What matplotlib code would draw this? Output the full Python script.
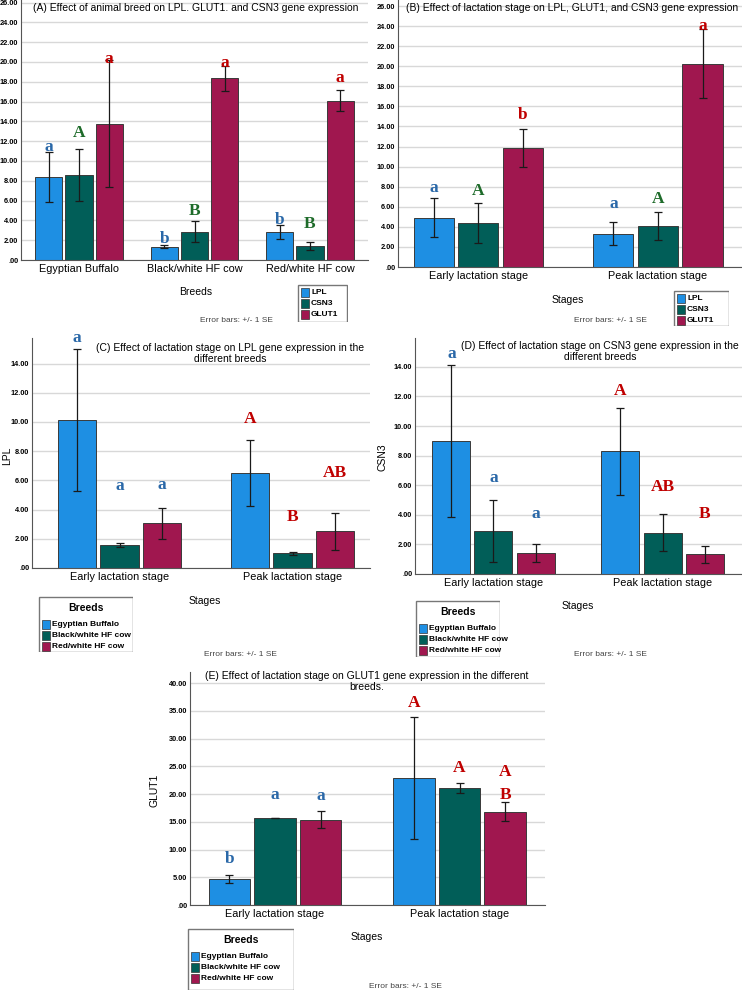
import matplotlib
matplotlib.use("Agg")
import matplotlib.pyplot as plt
import matplotlib.patches as mpatches
import numpy as np

# ---------------- data ----------------
breeds = ["Egyptian Buffalo", "Black/white HF cow", "Red/white HF cow"]
stages = ["Early lactation stage", "Peak lactation stage"]
genes = ["LPL", "CSN3", "GLUT1"]

# Panel A: genes by breed
a_lpl = [8.35, 1.35, 2.85]
a_lpl_se = [2.53, 0.15, 0.72]
a_csn3 = [8.60, 2.85, 1.38]
a_csn3_se = [2.63, 1.05, 0.40]
a_glut1 = [13.75, 18.35, 16.10]
a_glut1_se = [6.40, 1.25, 1.08]
a_letters = [["a", "A", "a"], ["b", "B", "a"], ["b", "B", "a"]]
a_letter_y = [[11.45, 12.8, 20.3], [2.1, 4.9, 19.9], [4.0, 3.6, 18.4]]

# Panel B: genes by stage
b_lpl = [4.92, 3.32]
b_lpl_se = [1.97, 1.13]
b_csn3 = [4.39, 4.12]
b_csn3_se = [1.99, 1.40]
b_glut1 = [11.87, 20.27]
b_glut1_se = [1.92, 3.40]
b_letters = [["a", "A", "b"], ["a", "A", "a"]]
b_letter_y = [[7.88, 7.58, 15.1], [6.25, 6.8, 24.0]]

# Panel C: LPL by stage and breed
c_egypt = [10.16, 6.51]
c_egypt_se = [4.86, 2.27]
c_bw = [1.60, 1.00]
c_bw_se = [0.13, 0.10]
c_rw = [3.06, 2.53]
c_rw_se = [1.05, 1.27]
c_letters = [["a", "a", "a"], ["A", "B", "AB"]]
c_letter_y = [[15.75, 5.6, 5.7], [10.2, 3.5, 6.5]]

# Panel D: CSN3 by stage and breed
d_egypt = [9.00, 8.28]
d_egypt_se = [5.15, 2.92]
d_bw = [2.90, 2.80]
d_bw_se = [2.09, 1.26]
d_rw = [1.40, 1.33]
d_rw_se = [0.62, 0.57]
d_letters = [["a", "a", "a"], ["A", "AB", "B"]]
d_letter_y = [[14.9, 6.5, 4.05], [12.4, 5.9, 4.05]]

# Panel E: GLUT1 by stage and breed
e_egypt = [4.69, 22.90]
e_egypt_se = [0.78, 11.06]
e_bw = [15.69, 21.05]
e_bw_se = [0.06, 0.87]
e_rw = [15.33, 16.84]
e_rw_se = [1.53, 1.68]
e_letters = [["b", "a", "a"], ["A", "A", "A"]]
e_letter_y = [[8.3, 19.8, 19.7], [36.4, 24.65, 23.9]]
e_extra_letter = ("B", 1, 2, 19.8)  # (letter, group, series, y)

# ---------------- style ----------------
W, H = 742, 991
C_BLUE = "#1E8FE3"
C_TEAL = "#015E58"
C_MAROON = "#A0174F"
bar_colors = [C_BLUE, C_TEAL, C_MAROON]
L_BLUE = "#2A68A8"
L_GREEN = "#1E6B2A"
L_RED = "#C00000"
SANS = ["Liberation Sans", "DejaVu Sans"]
SERIF = ["Liberation Serif", "DejaVu Serif"]

fig = plt.figure(figsize=(W / 100, H / 100), dpi=100)
fig.patch.set_facecolor("white")


def px_axes(left, top, right, bottom):
    return fig.add_axes([left / W, 1 - bottom / H, (right - left) / W, (bottom - top) / H])


def ftext(x, y, s, size=7.5, **kw):
    kw.setdefault("ha", "center")
    kw.setdefault("va", "center")
    kw.setdefault("family", SANS)
    fig.text(x / W, 1 - y / H, s, fontsize=size, **kw)


def fmt(v):
    return ".00" if v == 0 else "%.2f" % v


def style_axes(ax, ymax, ystep, ylim_top, xlim, cats):
    ax.set_ylim(0, ylim_top)
    ax.set_xlim(*xlim)
    ticks = np.arange(0, ymax + 0.001, ystep)
    ax.set_yticks(ticks)
    ax.set_yticklabels([fmt(t) for t in ticks], fontsize=5.3, fontweight="bold", family=SANS)
    ax.set_xticks(range(len(cats)))
    ax.set_xticklabels(cats, fontsize=7.8, family=SANS)
    ax.tick_params(axis="both", length=0, pad=2)
    ax.tick_params(axis="x", pad=3)
    for s in ["top", "right"]:
        ax.spines[s].set_visible(False)
    for s in ["left", "bottom"]:
        ax.spines[s].set_color("#555555")
        ax.spines[s].set_linewidth(0.8)
    ax.yaxis.grid(True, color="#D8D8D8", linewidth=1.0)
    ax.set_axisbelow(True)


def draw_bars(ax, series, ses, width, offset):
    n = len(series)
    for i, (vals, se) in enumerate(zip(series, ses)):
        x = np.arange(len(vals)) + (i - (n - 1) / 2) * offset
        ax.bar(x, vals, width, color=bar_colors[i], edgecolor="#3A3A3A", linewidth=0.7, zorder=2)
        ax.errorbar(x, vals, yerr=se, fmt="none", ecolor="#1A1A1A", elinewidth=0.9,
                    capsize=3.2, capthick=0.9, zorder=3)


def draw_letters(ax, letters, ys, colors, offset, by_group=False, size=12.5):
    for g, (lg, yg) in enumerate(zip(letters, ys)):
        for i, (l, y) in enumerate(zip(lg, yg)):
            x = g + (i - 1) * offset
            col = colors[g] if by_group else colors[i]
            ax.text(x, y, l, ha="center", va="center", fontsize=size, fontweight="bold",
                    family=SERIF, color=col, zorder=4)


def legend_box(left, top, right, bottom, labels, title=None, fs=6.0):
    lax = px_axes(left, top, right, bottom)
    lax.set_xlim(0, right - left)
    lax.set_ylim(bottom - top, 0)
    lax.axis("off")
    lax.add_patch(mpatches.Rectangle((0.5, 0.5), right - left - 1, bottom - top - 1,
                                     fill=False, edgecolor="#777777", linewidth=1.0))
    y0 = 4
    if title:
        lax.text((right - left) / 2, 12, title, ha="center", va="center", fontsize=7.5,
                 fontweight="bold", family=SANS)
        y0 = 24
    step = 11
    for k, lab in enumerate(labels):
        yy = y0 + k * step
        lax.add_patch(mpatches.Rectangle((4, yy), 8, 9, facecolor=bar_colors[k],
                                         edgecolor="#333333", linewidth=0.5))
        lax.text(14, yy + 4.5, lab, ha="left", va="center", fontsize=fs,
                 fontweight="bold", family=SANS)


# ---------------- Panel A ----------------
axA = px_axes(21, 0, 368, 260)
style_axes(axA, 26, 2, 26.26, (-0.502, 2.502), breeds)
draw_bars(axA, [a_lpl, a_csn3, a_glut1], [a_lpl_se, a_csn3_se, a_glut1_se], 0.234, 0.262)
draw_letters(axA, a_letters, a_letter_y, [L_BLUE, L_GREEN, L_RED], 0.262)
ftext(196, 8, "(A) Effect of animal breed on LPL. GLUT1. and CSN3 gene expression", size=7.5)
ftext(196, 292, "Breeds", size=7.5)
ftext(236, 321, "Error bars: +/- 1 SE", size=6.0, color="#444444")
legend_box(297, 284, 348, 322, genes)

# ---------------- Panel B ----------------
axB = px_axes(398, 0, 742, 267)
style_axes(axB, 26, 2, 26.6, (-0.448, 1.468), stages)
draw_bars(axB, [b_lpl, b_csn3, b_glut1], [b_lpl_se, b_csn3_se, b_glut1_se], 0.223, 0.248)
draw_letters(axB, b_letters, b_letter_y, [L_BLUE, L_GREEN, L_RED], 0.248)
ftext(572, 8, "(B) Effect of lactation stage on LPL, GLUT1, and CSN3 gene expression", size=7.5)
ftext(568, 300, "Stages", size=7.5)
ftext(610, 321, "Error bars: +/- 1 SE", size=6.0, color="#444444")
legend_box(673, 290, 729, 326, genes)

# ---------------- Panel C ----------------
axC = px_axes(32, 338, 370, 568)
style_axes(axC, 14, 2, 15.75, (-0.506, 1.448), stages)
draw_bars(axC, [c_egypt, c_bw, c_rw], [c_egypt_se, c_bw_se, c_rw_se], 0.22, 0.246)
draw_letters(axC, c_letters, c_letter_y, [L_BLUE, L_RED], 0.246, by_group=True)
ftext(7, 456, "LPL", size=7.5, rotation=90)
ftext(230, 348, "(C) Effect of lactation stage on LPL gene expression in the", size=7.5)
ftext(230, 359, "different breeds", size=7.5)
ftext(205, 601, "Stages", size=7.5)
ftext(240, 655, "Error bars: +/- 1 SE", size=6.0, color="#444444")
legend_box(38, 596, 133, 652, breeds, title="Breeds")

# ---------------- Panel D ----------------
axD = px_axes(415, 338, 742, 574)
style_axes(axD, 14, 2, 15.95, (-0.464, 1.47), stages)
draw_bars(axD, [d_egypt, d_bw, d_rw], [d_egypt_se, d_bw_se, d_rw_se], 0.225, 0.249)
draw_letters(axD, d_letters, d_letter_y, [L_BLUE, L_RED], 0.249, by_group=True)
ftext(383, 457, "CSN3", size=7.5, rotation=90)
ftext(600, 346, "(D) Effect of lactation stage on CSN3 gene expression in the", size=7.5)
ftext(600, 357, "different breeds", size=7.5)
ftext(578, 606, "Stages", size=7.5)
ftext(610, 655, "Error bars: +/- 1 SE", size=6.0, color="#444444")
legend_box(415, 600, 500, 657, breeds, title="Breeds")

# ---------------- Panel E ----------------
axE = px_axes(190, 672, 545, 905)
style_axes(axE, 40, 5, 42.0, (-0.461, 1.463), stages)
draw_bars(axE, [e_egypt, e_bw, e_rw], [e_egypt_se, e_bw_se, e_rw_se], 0.225, 0.247)
draw_letters(axE, e_letters, e_letter_y, [L_BLUE, L_RED], 0.247, by_group=True)
lt, g, s, yv = e_extra_letter
axE.text(g + (s - 1) * 0.247, yv, lt, ha="center", va="center", fontsize=12.5,
         fontweight="bold", family=SERIF, color=L_RED, zorder=4)
ftext(155, 790, "GLUT1", size=7.5, rotation=90)
ftext(367, 676, "(E) Effect of lactation stage on GLUT1 gene expression in the different", size=7.5)
ftext(367, 687, "breeds.", size=7.5)
ftext(367, 937, "Stages", size=7.5)
ftext(405, 986, "Error bars: +/- 1 SE", size=6.0, color="#444444")
legend_box(187, 928, 294, 990, breeds, title="Breeds")

fig.savefig("out.png", dpi=100, facecolor="white")
